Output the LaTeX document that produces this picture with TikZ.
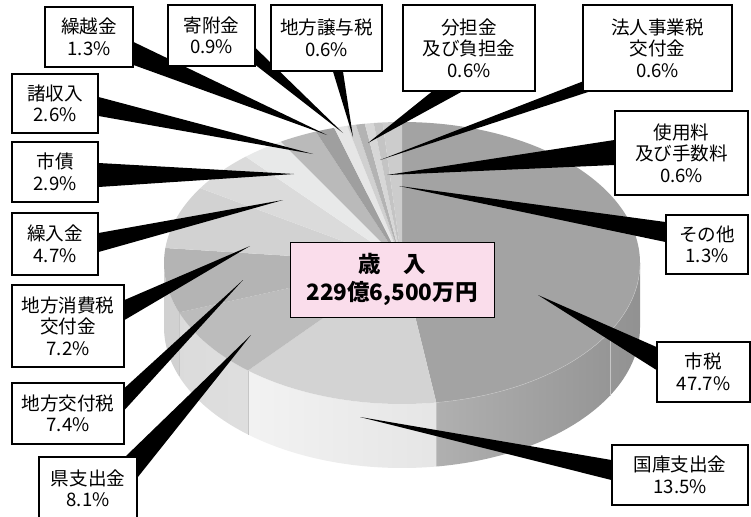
\documentclass[tikz,border=0pt]{standalone}
\usepackage{fontspec}
\setmainfont{Noto Sans CJK JP}
\definecolor{cShizei}{HTML}{A3A3A3}
\definecolor{cKokko}{HTML}{D3D3D3}
\definecolor{cKenshi}{HTML}{BCBCBC}
\definecolor{cKoufuzei}{HTML}{B4B4B4}
\definecolor{cShouhizei}{HTML}{D2D2D2}
\definecolor{cKurire}{HTML}{DBDBDB}
\definecolor{cShisai}{HTML}{E8E9E9}
\definecolor{cShoshu}{HTML}{BABABA}
\definecolor{cKurikoshi}{HTML}{9F9F9F}
\definecolor{cKifu}{HTML}{E6E6E6}
\definecolor{cJouyo}{HTML}{D0D0D0}
\definecolor{cBuntan}{HTML}{B3B3B3}
\definecolor{cHoujin}{HTML}{D7D7D7}
\definecolor{cShiyou}{HTML}{C4C4C4}
\definecolor{cSonota}{HTML}{CCCCCC}
\definecolor{cPink}{HTML}{FADDEB}
\pgfdeclarelayer{wedgelayer}
\pgfsetlayers{wedgelayer,main}
\begin{document}
\begin{tikzpicture}[x=1pt,y=-1pt,
    lbl/.style={draw,fill=white,line width=1.1pt,align=center,inner sep=0pt,font=\fontsize{18.6}{21.5}\selectfont},
    wedge/.style={fill=black},
    rim/.style={x radius=238,y radius=141},
    seam/.style={draw=gray!45,line width=0.4pt}]
    \useasboundingbox (0,0) rectangle (751,516);
    \coordinate (c) at (402,263);%饼图中心
    \begin{pgfonlayer}{wedgelayer}
    % 侧面
    \shade[left color=black!29,right color=black!43] (c) ++(0:238 and 141) arc[rim,start angle=0,end angle=81.72] -- ++(0,64) arc[rim,start angle=81.72,end angle=0] -- cycle;
    \shade[left color=black!5,right color=black!10] (c) ++(81.72:238 and 141) arc[rim,start angle=81.72,end angle=130.32] -- ++(0,64) arc[rim,start angle=130.32,end angle=81.72] -- cycle;
    \shade[left color=black!14,right color=black!10] (c) ++(130.32:238 and 141) arc[rim,start angle=130.32,end angle=159.48] -- ++(0,64) arc[rim,start angle=159.48,end angle=130.32] -- cycle;
    \fill[black!18] (c) ++(159.48:238 and 141) arc[rim,start angle=159.48,end angle=180] -- ++(0,64) arc[rim,start angle=180,end angle=159.48] -- cycle;
    \draw[seam] (c) ++(29.1:238 and 141) -- ++(0,64);
    \draw[seam] (c) ++(130.32:238 and 141) -- ++(0,64);
    \draw[seam] (c) ++(159.48:238 and 141) -- ++(0,64);
    % 顶面
    \fill[cShizei] (c) -- ++(-90:238 and 141) arc[rim,start angle=-90,end angle=81.72] -- cycle;
    \fill[cKokko] (c) -- ++(81.72:238 and 141) arc[rim,start angle=81.72,end angle=130.32] -- cycle;
    \fill[cKenshi] (c) -- ++(130.32:238 and 141) arc[rim,start angle=130.32,end angle=159.48] -- cycle;
    \fill[cKoufuzei] (c) -- ++(159.48:238 and 141) arc[rim,start angle=159.48,end angle=186.12] -- cycle;
    \fill[cShouhizei] (c) -- ++(186.12:238 and 141) arc[rim,start angle=186.12,end angle=212.04] -- cycle;
    \fill[cKurire] (c) -- ++(212.04:238 and 141) arc[rim,start angle=212.04,end angle=228.96] -- cycle;
    \fill[cShisai] (c) -- ++(228.96:238 and 141) arc[rim,start angle=228.96,end angle=239.4] -- cycle;
    \fill[cShoshu] (c) -- ++(239.4:238 and 141) arc[rim,start angle=239.4,end angle=248.76] -- cycle;
    \fill[cKurikoshi] (c) -- ++(248.76:238 and 141) arc[rim,start angle=248.76,end angle=253.44] -- cycle;
    \fill[cKifu] (c) -- ++(253.44:238 and 141) arc[rim,start angle=253.44,end angle=256.68] -- cycle;
    \fill[cJouyo] (c) -- ++(256.68:238 and 141) arc[rim,start angle=256.68,end angle=258.84] -- cycle;
    \fill[cBuntan] (c) -- ++(258.84:238 and 141) arc[rim,start angle=258.84,end angle=261] -- cycle;
    \fill[cHoujin] (c) -- ++(261:238 and 141) arc[rim,start angle=261,end angle=263.16] -- cycle;
    \fill[cShiyou] (c) -- ++(263.16:238 and 141) arc[rim,start angle=263.16,end angle=265.32] -- cycle;
    \fill[cSonota] (c) -- ++(265.32:238 and 141) arc[rim,start angle=265.32,end angle=270] -- cycle;
    \draw[seam] (c) ++(0:238 and 141) arc[rim,start angle=0,end angle=81.72];%边缘高光
    \end{pgfonlayer}
    % 楔形的尖端
    \coordinate (tShizei) at (538,295);
    \coordinate (tKokko) at (360,417);
    \coordinate (tKenshi) at (251,335);
    \coordinate (tKoufuzei) at (243,280);
    \coordinate (tShouhizei) at (250,246);
    \coordinate (tKurire) at (283,200);
    \coordinate (tShisai) at (294,174);
    \coordinate (tShoshu) at (313,154);
    \coordinate (tKurikoshi) at (327,135);
    \coordinate (tKifu) at (343,133);
    \coordinate (tJouyo) at (353,137);
    \coordinate (tBuntan) at (368,143);
    \coordinate (tHoujin) at (380,160);
    \coordinate (tShiyou) at (387,175);
    \coordinate (tSonota) at (399,186);
    % 标签框
    \node[lbl,minimum width=93pt,minimum height=60pt] (shizei) at (703.5,372) {市税\\47.7\%};
    \node[lbl,minimum width=136pt,minimum height=60pt] (kokko) at (680,475) {国庫支出金\\13.5\%};
    \node[lbl,minimum width=98pt,minimum height=63pt] (kenshi) at (88,488.5) {県支出金\\8.1\%};
    \node[lbl,minimum width=112pt,minimum height=61pt] (koufuzei) at (68,413.5) {地方交付税\\7.4\%};
    \node[lbl,minimum width=112pt,minimum height=82pt] (shouhizei) at (68,326) {地方消費税\\交付金\\7.2\%};
    \node[lbl,minimum width=86pt,minimum height=62pt] (kurire) at (55,244) {繰入金\\4.7\%};
    \node[lbl,minimum width=86pt,minimum height=60pt] (shisai) at (55,172) {市債\\2.9\%};
    \node[lbl,minimum width=86pt,minimum height=59pt] (shoshu) at (55,103.5) {諸収入\\2.6\%};
    \node[lbl,minimum width=88pt,minimum height=60pt] (kurikoshi) at (89,37) {繰越金\\1.3\%};
    \node[lbl,minimum width=87pt,minimum height=61pt] (kifu) at (211.5,35.5) {寄附金\\0.9\%};
    \node[lbl,minimum width=111pt,minimum height=66pt] (jouyo) at (326.5,38) {地方譲与税\\0.6\%};
    \node[lbl,minimum width=132pt,minimum height=86pt] (buntan) at (469,48) {分担金\\及び負担金\\0.6\%};
    \node[lbl,minimum width=149pt,minimum height=86pt] (houjin) at (657.5,48) {法人事業税\\交付金\\0.6\%};
    \node[lbl,minimum width=133pt,minimum height=84pt] (shiyou) at (681.5,153) {使用料\\及び手数料\\0.6\%};
    \node[lbl,minimum width=82pt,minimum height=59pt] (sonota) at (707,244.5) {その他\\1.3\%};
    % 指示楔形
    \begin{pgfonlayer}{wedgelayer}
    \fill[wedge] (shizei.west) ++(0,-25) -- ++(0,23) -- (tShizei) -- cycle;
    \fill[wedge] (kokko.west) ++(0,-15) -- ++(0,20) -- (tKokko) -- cycle;
    \fill[wedge] (kenshi.north east) ++(-12,0) -- ++(12,21) -- (tKenshi) -- cycle;
    \fill[wedge] (koufuzei.east) ++(0,-25.5) -- ++(0,22) -- (tKoufuzei) -- cycle;
    \fill[wedge] (shouhizei.east) ++(0,-26) -- ++(0,20) -- (tShouhizei) -- cycle;
    \fill[wedge] (kurire.east) ++(0,-11) -- ++(0,19) -- (tKurire) -- cycle;
    \fill[wedge] (shisai.east) ++(0,-9) -- ++(0,24) -- (tShisai) -- cycle;
    \fill[wedge] (shoshu.east) ++(0,-6.5) -- ++(0,19) -- (tShoshu) -- cycle;
    \fill[wedge] (kurikoshi.east) ++(0,5) -- ++(0,23) -- (tKurikoshi) -- cycle;
    \fill[wedge] (kifu.east) ++(0,12.5) -- ++(0,17) -- (tKifu) -- cycle;
    \fill[wedge] (jouyo.south) ++(6.5,0) -- ++(10,0) -- (tJouyo) -- cycle;
    \fill[wedge] (buntan.south) ++(-37,0) -- ++(30,0) -- (tBuntan) -- cycle;
    \fill[wedge] (houjin.south west) ++(0,-10) -- ++(7,10) -- (tHoujin) -- cycle;
    \fill[wedge] (shiyou.west) ++(0,-13) -- ++(0,25) -- (tShiyou) -- cycle;
    \fill[wedge] (sonota.west) ++(0,-22.5) -- ++(0,20) -- (tSonota) -- cycle;
    \end{pgfonlayer}
    \node[draw,fill=cPink,line width=1pt,minimum width=204pt,minimum height=75pt,align=center,inner sep=0pt,font=\bfseries\fontsize{22.5}{28}\selectfont] (sainyuu) at (392,279.5) {歳　入\\229億6,500万円};
\end{tikzpicture}
\end{document}
